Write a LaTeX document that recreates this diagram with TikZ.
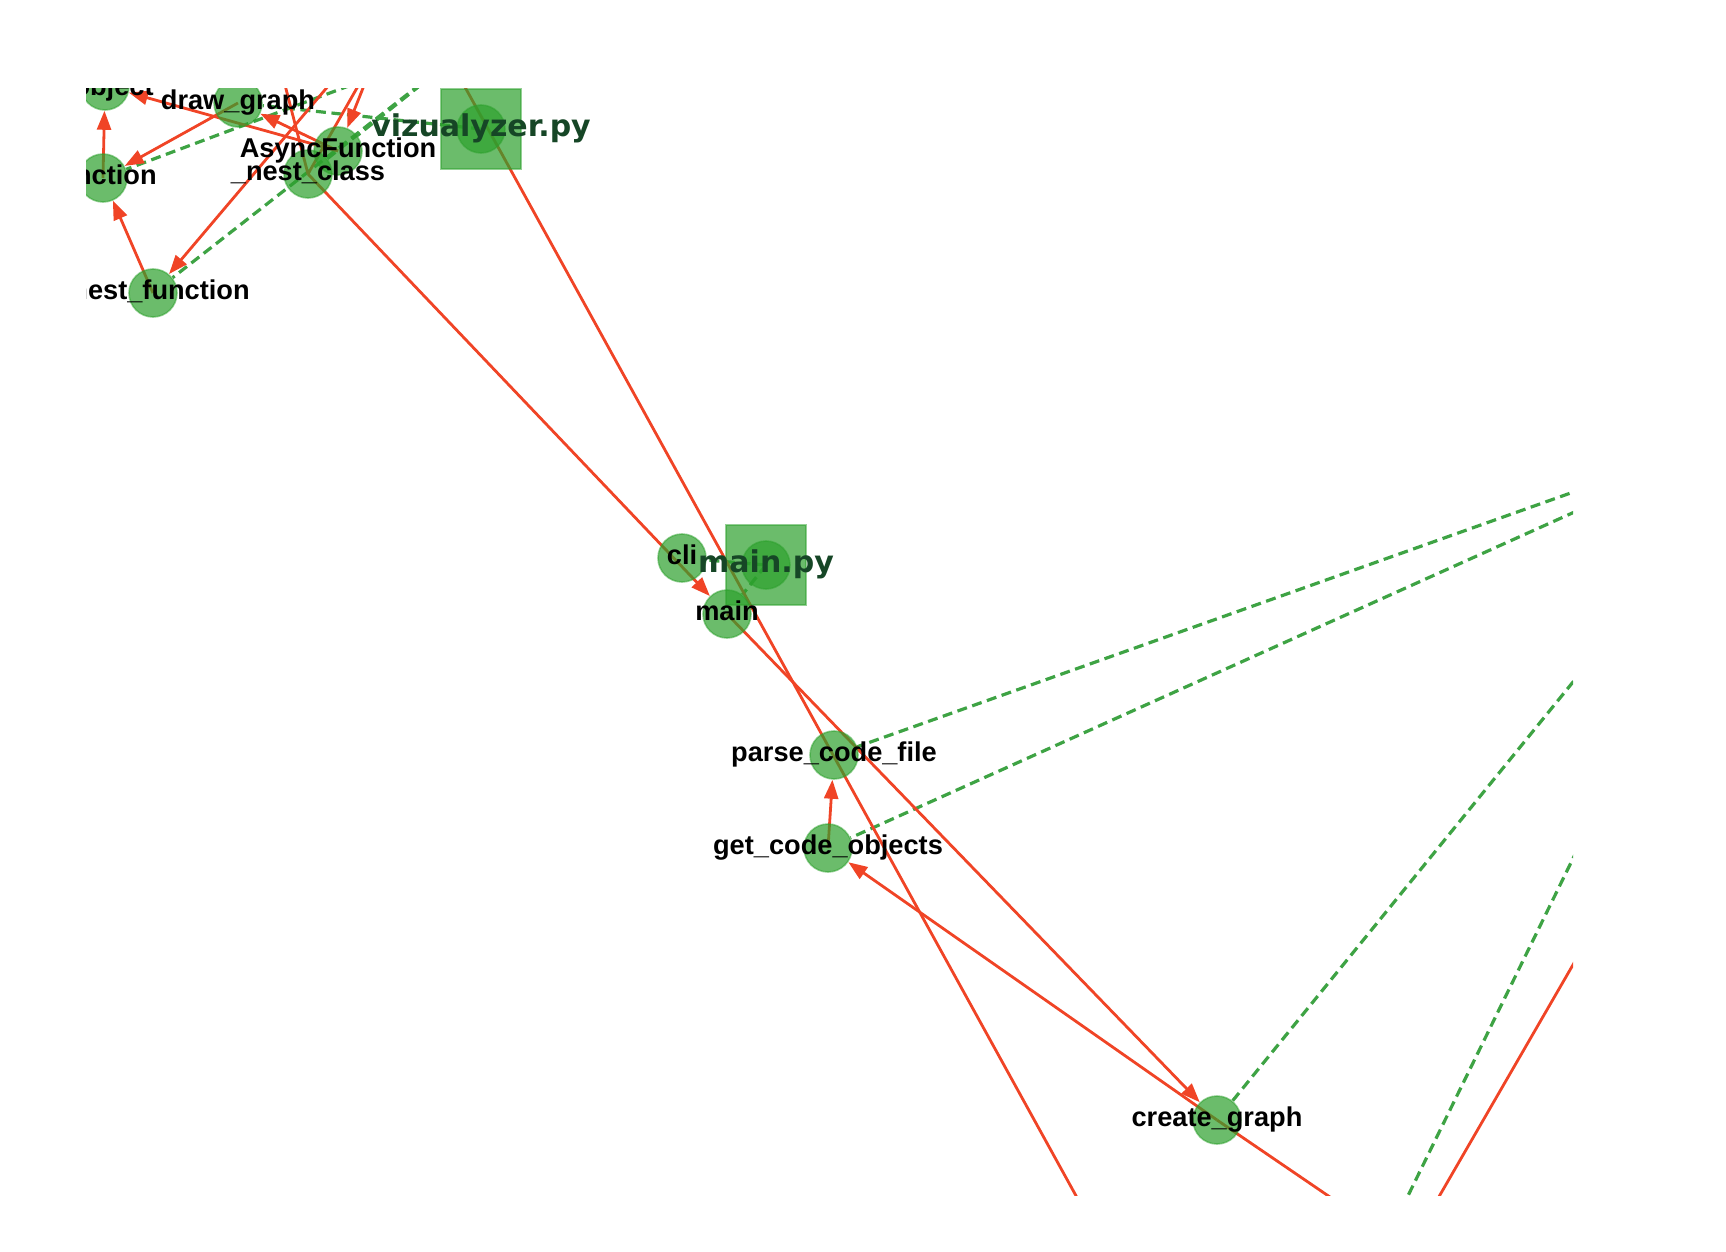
\documentclass[tikz,border=0pt]{standalone}
\usepackage{fontspec}
\newfontfamily\lblfont{Liberation Sans}
\newfontfamily\filefont{DejaVu Sans}
\usepackage{tikz}
\usetikzlibrary{arrows.meta,backgrounds}

\definecolor{nodegreen}{RGB}{44,160,44}
\definecolor{callred}{RGB}{240,68,38}
\definecolor{dashgreen}{RGB}{62,163,68}
\definecolor{filetext}{RGB}{22,70,38}

\begin{document}
\begin{tikzpicture}[x=0.5pt,y=-0.5pt]
			\tikzstyle{Fn}		= [circle, fill=nodegreen, draw=nodegreen, fill opacity=0.7, draw opacity=0.5, line width=0.8pt, minimum size=24pt, inner sep=0pt]
			\tikzstyle{File}	= [rectangle, fill=nodegreen, draw=nodegreen, fill opacity=0.7, draw opacity=0.5, line width=0.8pt, minimum size=40pt, inner sep=0pt]
			\tikzstyle{Lbl}		= [font=\lblfont\bfseries\fontsize{13.6}{16}\selectfont, text height=9.6pt, text depth=2.8pt, inner sep=0pt]
			\tikzstyle{FileLbl}	= [font=\filefont\bfseries\fontsize{15}{18}\selectfont, text=filetext, text height=11pt, text depth=3.4pt, inner sep=0pt]
			\tikzstyle{Call}	= [draw=callred, line width=1.4pt, -{Triangle[length=9.5pt, width=7pt]}]
			\tikzstyle{Owns}	= [draw=dashgreen, line width=1.6pt, dash pattern=on 5pt off 2.8pt]
			
			\useasboundingbox (0,0) rectangle (1726,1252);
			
			% nodes and labels, clipped to the plot area
			\begin{scope}
			\clip (86,89) rectangle (1573,1195);
			\node (vizpy) at (481,129) [File] {};
			\node (vizpyc) at (481,129) [Fn] {};
			\node (mainpy) at (766,565) [File] {};
			\node (mainpyc) at (766,565) [Fn] {};
			
			\node (obj) at (105,86) [Fn] {};
			\node (drawgraph) at (238,103) [Fn] {};
			\node (asyncfn) at (338,151) [Fn] {};
			\node (nestcls) at (308,174) [Fn] {};
			\node (fn) at (103,178) [Fn] {};
			\node (nestfn) at (153,293) [Fn] {};
			\node (cli) at (682,558) [Fn] {};
			\node (main) at (727,614) [Fn] {};
			\node (parse) at (834,755) [Fn] {};
			\node (getobj) at (828,848) [Fn] {};
			\node (create) at (1217,1120) [Fn] {};
			
			\node (objlbl) at (106,89) [Lbl] {\_object};
			\node (drawgraphlbl) at (drawgraph) [Lbl] {draw\_graph};
			\node (asyncfnlbl) at (asyncfn) [Lbl] {AsyncFunction};
			\node (nestclslbl) at (nestcls) [Lbl] {\_nest\_class};
			\node (fnlbl) at (fn) [Lbl] {function};
			\node (nestfnlbl) at (nestfn) [Lbl] {\_nest\_function};
			\node (clilbl) at (cli) [Lbl] {cli};
			\node (mainlbl) at (main) [Lbl] {main};
			\node (parselbl) at (parse) [Lbl] {parse\_code\_file};
			\node (getobjlbl) at (getobj) [Lbl] {get\_code\_objects};
			\node (createlbl) at (create) [Lbl] {create\_graph};
			\node (vizpylbl) at (vizpy) [FileLbl] {vizualyzer.py};
			\node (mainpylbl) at (mainpy) [FileLbl] {main.py};
			\end{scope}
			
			% ends that lie outside the plot area
			\coordinate (topfile) at (482,36);
			\coordinate (rightfile) at (1790,415);
			\coordinate (offA) at (401,0);
			\coordinate (offB) at (398,0);
			\coordinate (offC) at (407,0);
			\coordinate (offD) at (263,0);
			\coordinate (offE) at (1437,1270);
			\coordinate (offF) at (417,0);
			\coordinate (offG) at (1107,1252);
			\coordinate (offH) at (1407,1252);
			\coordinate (offI) at (1726,700);
			\coordinate (offK) at (1357,1300);
			
			\begin{scope}[on background layer]
			\clip (86,89) rectangle (1573,1195);
			% contains
			\draw (topfile) to (fn) [Owns];
			\draw (topfile) to (asyncfn) [Owns];
			\draw (topfile) to (nestcls) [Owns];
			\draw (topfile) to (nestfn) [Owns];
			\draw (vizpy.center) to (drawgraph) [Owns];
			\draw (mainpy.center) to (cli) [Owns];
			\draw (mainpy.center) to (main) [Owns];
			\draw (rightfile) to (parse) [Owns];
			\draw (rightfile) to (getobj) [Owns];
			\draw (rightfile) to (create) [Owns];
			\draw (rightfile) to (offK) [Owns];
			
			% calls
			\draw (fn.center) to (obj) [Call];
			\draw (nestfn.center) to (fn) [Call];
			\draw (asyncfn.center) to (obj) [Call];
			\draw (asyncfn.center) to (drawgraph) [Call];
			\draw (drawgraph.center) to (fn) [Call];
			\draw (offA) to (nestfn) [Call];
			\draw (offB) to (asyncfn) [Call];
			\draw (nestcls.center) to (offC) [Call];
			\draw (nestcls.center) to (offD) [Call];
			\draw (nestcls.center) to (main) [Call];
			\draw (main.center) to (create) [Call];
			\draw (create.center) to (getobj) [Call];
			\draw (getobj.center) to (parse) [Call];
			\draw (create.center) to (offE) [Call];
			\draw (offF) to (offG) [Call];
			\draw (offI) to (offH) [Call];
			\end{scope}
		\end{tikzpicture}
\end{document}
